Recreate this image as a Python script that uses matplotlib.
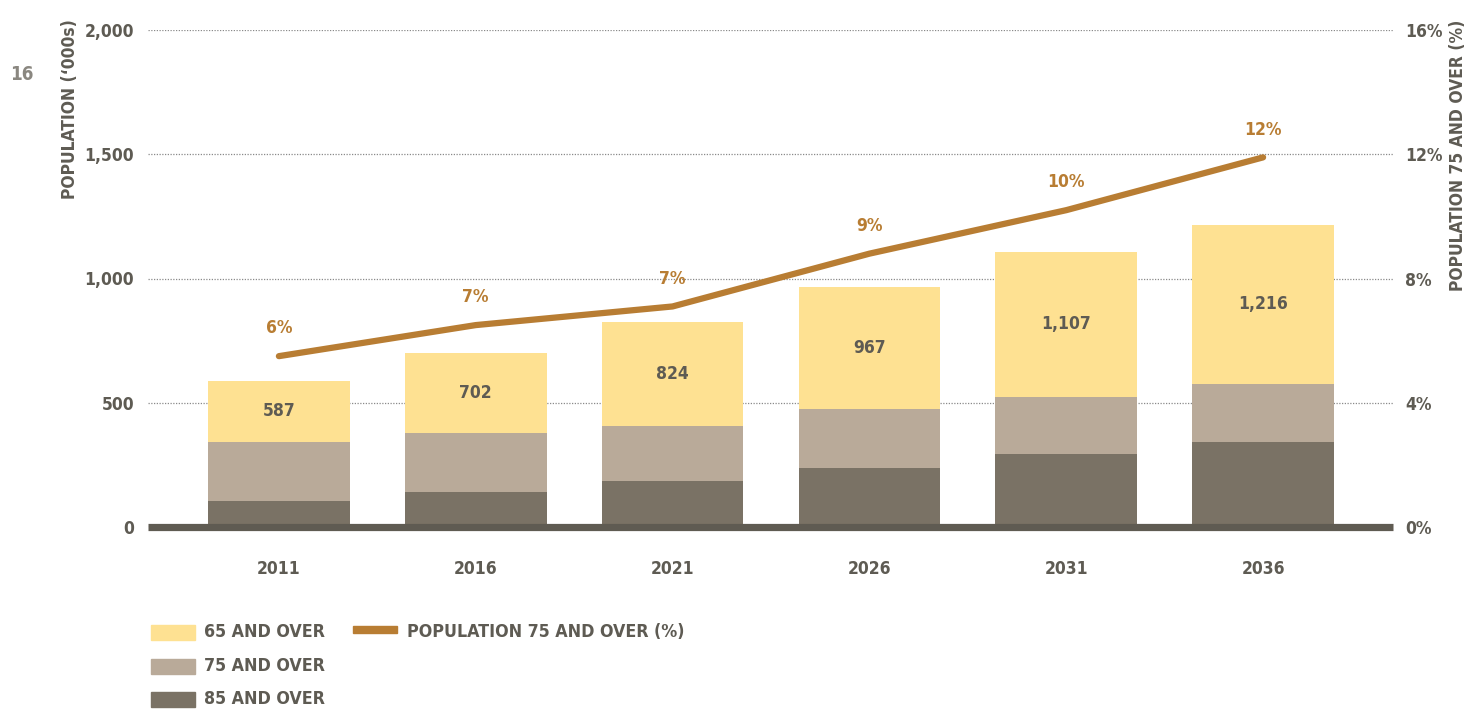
"""Population 65+ / 75+ / 85+ projection with share of 75+ on a second axis."""
import numpy as np
import matplotlib
matplotlib.use("Agg")
import matplotlib.pyplot as plt
from matplotlib.patches import Rectangle

plt.rcParams["font.family"] = ["DejaVu Sans"]
plt.rcParams["font.stretch"] = "condensed"
plt.rcParams["font.weight"] = "bold"

years    = ["2011", "2016", "2021", "2026", "2031", "2036"]
pop_65   = [587, 702, 824, 967, 1107, 1216]
pop_75   = [343, 377, 407, 475, 525, 576]
pop_85   = [106, 140, 186, 237, 292, 343]
share_75 = [5.5, 6.5, 7.1, 8.8, 10.2, 11.9]

left_ticks  = [0, 500, 1000, 1500, 2000]
right_ticks = [0, 4, 8, 12, 16]

C65   = "#FEE192"
C75   = "#B9AA99"
C85   = "#7A7265"
CLINE = "#B87D33"
CTEXT = "#5E5B53"
CBASE = "#5F5B52"

W, H = 1468, 709
fig = plt.figure(figsize=(W / 100, H / 100), dpi=100)
ax = fig.add_axes([148 / W, 1 - 527 / H, (1393 - 148) / W, (527 - 30) / H])
ax2 = ax.twinx()

x = np.arange(len(years))
bw = 0.72
ax.bar(x, pop_65, bw, color=C65, zorder=2)
ax.bar(x, pop_75, bw, color=C75, zorder=3)
ax.bar(x, pop_85, bw, color=C85, zorder=4)

# value of the 65+ total, centred in the yellow band
for xi, top, mid in zip(x, pop_65, pop_75):
    ax.text(xi, (top + mid) / 2, f"{top:,}", ha="center", va="center",
            fontsize=12.5, color=CTEXT, zorder=5)

ax.set_xlim(-0.665, len(years) - 1 + 0.66)
ax.set_ylim(0, 2000)
ax.set_yticks(left_ticks)
ax.set_yticklabels([f"{v:,}" for v in left_ticks])
ax.set_xticks(x)
ax.set_xticklabels(years)
ax.tick_params(axis="x", length=0, pad=24, labelsize=12.5, colors=CTEXT)
ax.tick_params(axis="y", length=0, pad=10, labelsize=12.5, colors=CTEXT)
ax.yaxis.grid(True, color="#8A8A8A", linestyle=(0, (1, 1.2)), linewidth=0.9)
ax.set_axisbelow(True)
for side in ["top", "right", "left"]:
    ax.spines[side].set_visible(False)
ax.spines["bottom"].set_color(CBASE)
ax.spines["bottom"].set_linewidth(5.2)
ax.spines["bottom"].set_capstyle("butt")
ax.spines["bottom"].set_zorder(6)

ax2.plot(x, share_75, color=CLINE, linewidth=4.5, solid_capstyle="round", zorder=6)
for xi, v in zip(x, share_75):
    ax2.annotate(f"{int(v + 0.5)}%", (xi, v), xytext=(0, 20), textcoords="offset points",
                 ha="center", va="center", fontsize=12.5, color=CLINE)
ax2.set_ylim(0, 16)
ax2.set_yticks(right_ticks)
ax2.set_yticklabels([f"{v}%" for v in right_ticks])
ax2.tick_params(axis="y", length=0, pad=9, labelsize=12.5, colors=CTEXT)
for side in ["top", "right", "left", "bottom"]:
    ax2.spines[side].set_visible(False)

fig.text(70 / W, 1 - 109 / H, "POPULATION (\u2018000s)", rotation=90,
         ha="center", va="center", fontsize=12.5, color=CTEXT)
fig.text(1458 / W, 1 - 155 / H, "POPULATION 75 AND OVER (%)", rotation=90,
         ha="center", va="center", fontsize=12.5, color=CTEXT)
fig.text(22 / W, 1 - 75 / H, "16", ha="center", va="center",
         fontsize=13.5, color="#8A8780")

# legend
legend_rows = [("65 AND OVER", C65, 632), ("75 AND OVER", C75, 666), ("85 AND OVER", C85, 699)]
for label, col, yc in legend_rows:
    fig.patches.append(Rectangle((151 / W, 1 - (yc + 8) / H), 44 / W, 15 / H,
                                 transform=fig.transFigure, color=col))
    fig.text(204 / W, 1 - yc / H, label, ha="left", va="center",
             fontsize=12.8, color=CTEXT)
fig.patches.append(Rectangle((353 / W, 1 - 633 / H), 44 / W, 7 / H,
                             transform=fig.transFigure, color=CLINE))
fig.text(407 / W, 1 - 632 / H, "POPULATION 75 AND OVER (%)", ha="left",
         va="center", fontsize=12.8, color=CTEXT)

fig.savefig("out.png", dpi=100)
